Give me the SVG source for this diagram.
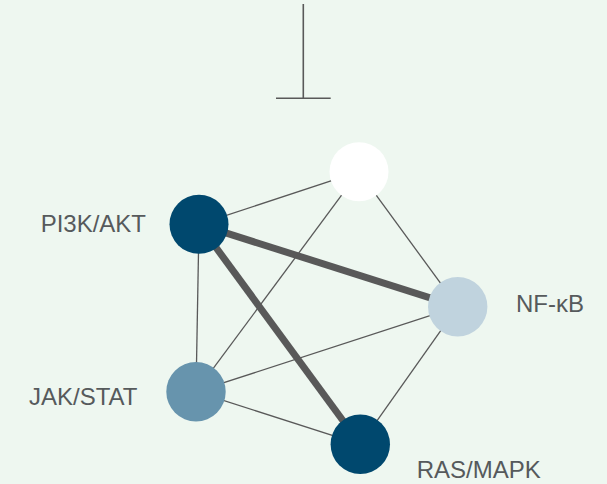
<svg xmlns="http://www.w3.org/2000/svg" width="607" height="484" viewBox="0 0 607 484">
  <style>
    .edge { stroke: #595959; stroke-width: 1.3; fill: none; }
    .edge.strong { stroke-width: 7; }
    .inhib { stroke: #595959; stroke-width: 1.6; fill: none; }
    .label { font-family: "Liberation Sans", Arial, sans-serif; font-size: 24px; fill: #565a5c; }
  </style>
  <rect width="607" height="484" fill="#eef7f0"/>

  <!-- inhibition bar -->
  <g id="inhibitor">
    <line class="inhib" x1="303.3" y1="4" x2="303.3" y2="98.3"/>
    <line class="inhib" x1="276" y1="98.3" x2="330.7" y2="98.3"/>
  </g>

  <!-- connectors between pathways -->
  <g id="edges">
    <line class="edge" x1="359" y1="171.7" x2="199" y2="224.3"/>
    <line class="edge" x1="359" y1="171.7" x2="196" y2="391.7"/>
    <line class="edge" x1="359" y1="171.7" x2="457.7" y2="306.7"/>
    <line class="edge" x1="199" y1="224.3" x2="196" y2="391.7"/>
    <line class="edge" x1="196" y1="391.7" x2="457.7" y2="306.7"/>
    <line class="edge" x1="196" y1="391.7" x2="360.3" y2="444.3"/>
    <line class="edge" x1="457.7" y1="306.7" x2="360.3" y2="444.3"/>
    <line class="edge strong" x1="199" y1="224.3" x2="457.7" y2="306.7"/>
    <line class="edge strong" x1="199" y1="224.3" x2="360.3" y2="444.3"/>
  </g>

  <g id="node-center">
    <circle cx="359" cy="171.7" r="29.5" fill="#ffffff"/>
  </g>
  <g id="node-pi3k">
    <circle cx="199" cy="224.3" r="29.5" fill="#00486e"/>
    <text class="label" x="146" y="231.7" text-anchor="end">PI3K/AKT</text>
  </g>
  <g id="node-nfkb">
    <circle cx="457.7" cy="306.7" r="29.7" fill="#c0d3de"/>
    <text class="label" x="516" y="311.7">NF-κB</text>
  </g>
  <g id="node-jakstat">
    <circle cx="196" cy="391.7" r="29.7" fill="#6794ad"/>
    <text class="label" x="137.5" y="405" text-anchor="end">JAK/STAT</text>
  </g>
  <g id="node-rasmapk">
    <circle cx="360.3" cy="444.3" r="29.7" fill="#00486e"/>
    <text class="label" x="416.7" y="478.3">RAS/MAPK</text>
  </g>
</svg>
